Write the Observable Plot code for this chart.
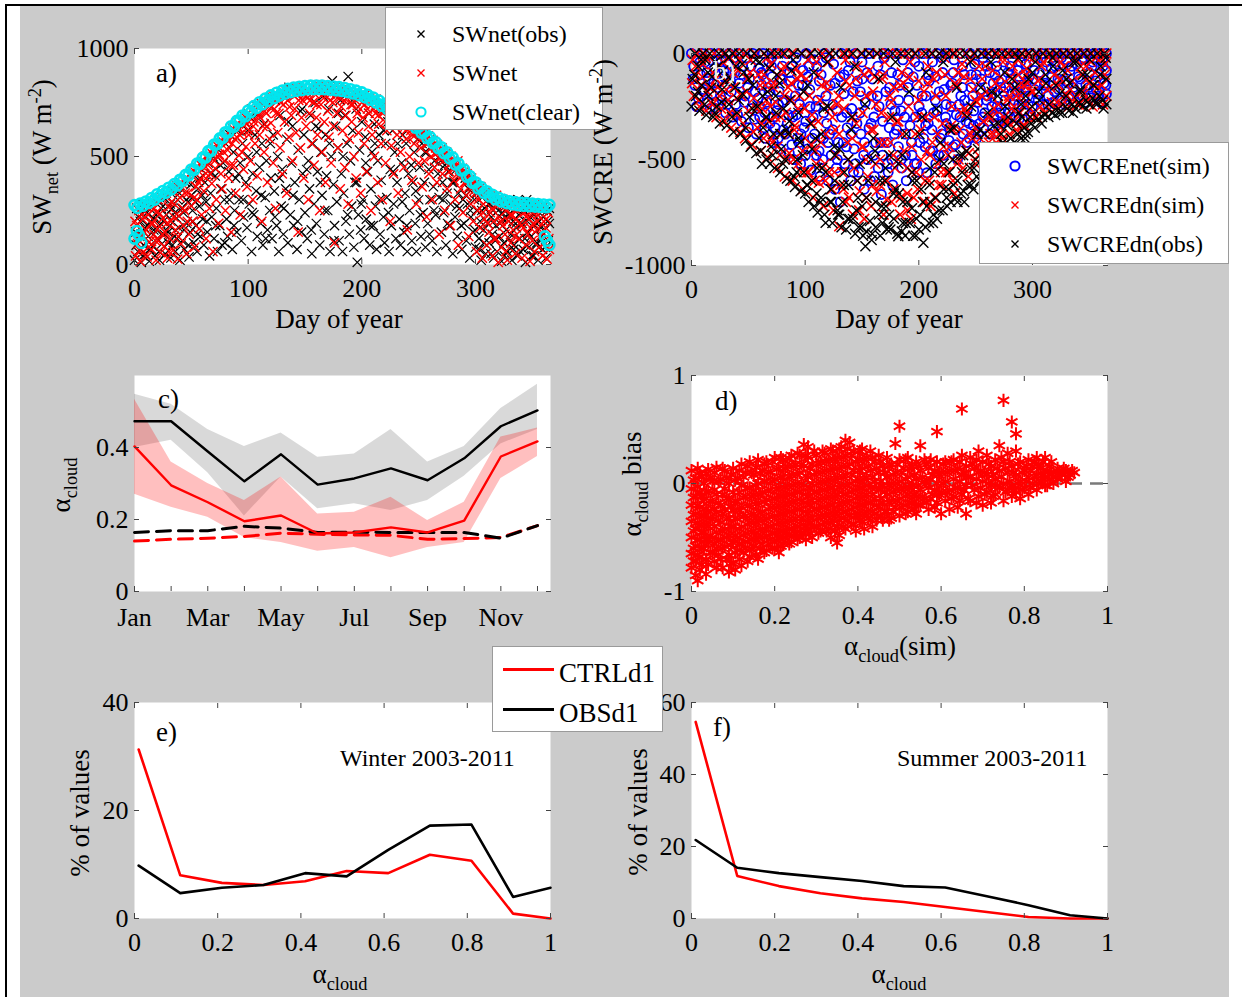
<!DOCTYPE html>
<html><head><meta charset="utf-8">
<script src="https://cdn.jsdelivr.net/npm/d3@7"></script>
<script src="https://cdn.jsdelivr.net/npm/@observablehq/plot@0.6"></script>
<style>
body{margin:0;background:#fff;}
#root{position:relative;width:1242px;height:997px;overflow:hidden;background:#fff;font-family:"Liberation Serif","Times New Roman",serif;}
.t{position:absolute;line-height:1;white-space:nowrap;font-family:"Liberation Serif","Times New Roman",serif;color:#000;}
.sb{font-size:0.68em;position:relative;top:0.38em;line-height:0;}
.sp{font-size:0.68em;position:relative;top:-0.55em;line-height:0;}
.box{position:absolute;background:#fff;border:1px solid #9a9a9a;box-sizing:border-box;}
</style></head>
<body><div id="root"></div>
<script>
// ---------- Panel a: SWnet (W m-2) vs day of year ----------
const swnetClear = [[0,275],[5,282],[10,292],[15,308],[20,325],[25,340],[30,355],[35,372],[40,392],[45,415],[50,440],[55,467],[60,495],[65,525],[70,555],[75,584],[80,612],[85,640],[90,665],[95,690],[100,713],[105,733],[110,751],[115,768],[120,783],[125,795],[130,805],[135,813],[140,819],[145,823],[150,826],[155,828],[160,829],[165,828],[170,826],[175,824],[180,821],[185,817],[190,811],[195,805],[200,797],[205,786],[210,773],[215,759],[220,744],[225,729],[230,714],[235,698],[240,681],[245,660],[250,638],[255,614],[260,590],[265,566],[270,543],[275,520],[280,496],[285,468],[290,440],[295,410],[300,381],[305,358],[310,339],[315,323],[320,310],[325,300],[330,293],[335,289],[340,286],[345,284],[350,282],[355,280],[360,278],[365,276],[0,120],[2,155],[4,135],[6,100],[363,110],[365,90],[361,130]];
const swnetClearB = [[2.5,262],[7.5,272],[12.5,285],[17.5,300],[22.5,317],[27.5,332],[32.5,348],[37.5,366],[42.5,388],[47.5,412],[52.5,438],[57.5,466],[62.5,495],[67.5,526],[72.5,556],[77.5,585],[82.5,612],[87.5,638],[92.5,663],[97.5,686],[102.5,706],[107.5,725],[112.5,742],[117.5,757],[122.5,770],[127.5,782],[132.5,791],[137.5,798],[142.5,804],[147.5,808],[152.5,811],[157.5,812],[162.5,812],[167.5,811],[172.5,809],[177.5,806],[182.5,803],[187.5,798],[192.5,792],[197.5,784],[202.5,775],[207.5,763],[212.5,750],[217.5,735],[222.5,720],[227.5,705],[232.5,690],[237.5,673],[242.5,655],[247.5,633],[252.5,610],[257.5,586],[262.5,562],[267.5,538],[272.5,515],[277.5,490],[282.5,463],[287.5,435],[292.5,406],[297.5,378],[302.5,352],[307.5,332],[312.5,315],[317.5,302],[322.5,292],[327.5,284],[332.5,278],[337.5,274],[342.5,272],[347.5,270],[352.5,268],[357.5,266],[362.5,265]];
const swnetSim = [[1,40],[2,180],[3,95],[4,250],[5,15],[6,130],[7,210],[8,60],[9,270],[10,160],[11,35],[12,230],[13,105],[14,290],[15,70],[16,190],[17,140],[18,300],[19,20],[20,245],[21,110],[22,175],[23,55],[24,310],[25,215],[26,85],[27,150],[28,330],[29,30],[30,265],[31,120],[32,200],[33,340],[34,65],[35,280],[36,160],[37,365],[38,25],[39,225],[40,310],[41,95],[42,375],[43,180],[44,250],[45,400],[46,50],[47,330],[48,140],[49,420],[50,270],[51,200],[52,435],[53,80],[54,360],[55,300],[56,450],[57,165],[58,395],[59,230],[60,480],[61,340],[62,455],[63,120],[64,500],[65,410],[66,260],[67,520],[68,375],[69,60],[70,540],[71,445],[72,300],[73,500],[74,190],[75,565],[76,420],[77,350],[78,585],[79,480],[80,250],[81,600],[82,530],[83,400],[84,620],[85,150],[86,560],[87,460],[88,640],[89,330],[90,590],[91,655],[92,505],[93,230],[94,670],[95,610],[96,440],[97,685],[98,545],[99,360],[100,700],[101,620],[102,480],[103,720],[104,300],[105,660],[106,560],[107,735],[108,410],[109,690],[110,600],[111,748],[112,200],[113,640],[114,520],[115,760],[116,700],[117,380],[118,770],[119,580],[120,655],[121,775],[122,470],[123,720],[124,260],[125,790],[126,610],[127,700],[128,540],[129,800],[130,420],[131,740],[132,660],[133,805],[134,330],[135,760],[136,590],[137,810],[138,690],[139,480],[140,815],[141,720],[142,610],[143,790],[144,150],[145,820],[146,540],[147,680],[148,760],[149,400],[150,825],[151,640],[152,770],[153,300],[154,700],[155,828],[156,560],[157,750],[158,460],[159,810],[160,680],[161,600],[162,828],[163,250],[164,740],[165,520],[166,790],[167,660],[168,380],[169,820],[170,710],[171,590],[172,760],[173,470],[174,825],[175,640],[176,100],[177,780],[178,700],[179,540],[180,815],[181,350],[182,730],[183,620],[184,800],[185,450],[186,690],[187,770],[188,280],[189,580],[190,805],[191,660],[192,740],[193,500],[194,795],[195,400],[196,700],[197,610],[198,780],[199,330],[200,750],[201,680],[202,560],[203,785],[204,430],[205,720],[206,640],[207,770],[208,250],[209,600],[210,760],[211,500],[212,700],[213,740],[214,380],[215,650],[216,730],[217,560],[218,300],[219,710],[220,740],[221,470],[222,620],[223,725],[224,680],[225,200],[226,550],[227,715],[228,420],[229,660],[230,700],[231,600],[232,330],[233,690],[234,520],[235,680],[236,640],[237,450],[238,670],[239,580],[240,160],[241,660],[242,500],[243,620],[244,390],[245,650],[246,560],[247,600],[248,280],[249,630],[250,470],[251,610],[252,540],[253,360],[254,600],[255,480],[256,590],[257,220],[258,560],[259,420],[260,580],[261,500],[262,300],[263,555],[264,450],[265,540],[266,380],[267,520],[268,140],[269,500],[270,530],[271,420],[272,480],[273,250],[274,510],[275,350],[276,490],[277,430],[278,180],[279,470],[280,480],[281,390],[282,300],[283,460],[284,420],[285,90],[286,440],[287,350],[288,410],[289,240],[290,430],[291,380],[292,320],[293,400],[294,130],[295,390],[296,280],[297,360],[298,200],[299,370],[300,330],[301,60],[302,250],[303,350],[304,170],[305,320],[306,30],[307,280],[308,210],[309,340],[310,90],[311,300],[312,150],[313,240],[314,320],[315,40],[316,200],[317,300],[318,120],[319,270],[320,10],[321,220],[322,305],[323,80],[324,180],[325,290],[326,140],[327,250],[328,20],[329,200],[330,285],[331,100],[332,230],[333,160],[334,280],[335,50],[336,210],[337,270],[338,120],[339,190],[340,260],[341,30],[342,170],[343,240],[344,90],[345,280],[346,140],[347,210],[348,15],[349,250],[350,110],[351,190],[352,60],[353,270],[354,160],[355,230],[356,80],[357,130],[358,260],[359,40],[360,200],[361,100],[362,170],[363,25],[364,240],[365,70]];
const swnetSimB = [[0.5,200],[2.5,120],[4.5,65],[6.5,230],[8.5,150],[10.5,270],[12.5,80],[14.5,190],[16.5,255],[18.5,110],[20.5,300],[22.5,235],[24.5,140],[26.5,320],[28.5,190],[30.5,60],[32.5,290],[34.5,220],[36.5,350],[38.5,130],[40.5,380],[42.5,260],[44.5,330],[46.5,200],[48.5,390],[50.5,430],[52.5,310],[54.5,450],[56.5,380],[58.5,460],[60.5,410],[62.5,500],[64.5,460],[66.5,420],[68.5,530],[70.5,480],[72.5,550],[74.5,510],[76.5,575],[78.5,520],[80.5,595],[82.5,570],[84.5,460],[86.5,630],[88.5,580],[90.5,640],[92.5,600],[94.5,520],[96.5,670],[98.5,650],[100.5,600],[102.5,690],[104.5,640],[106.5,710],[108.5,730],[110.5,680],[112.5,740],[114.5,710],[116.5,640],[118.5,760],[120.5,730],[122.5,780],[124.5,700],[126.5,770],[128.5,750],[130.5,800],[132.5,770],[134.5,795],[136.5,730],[138.5,805],[140.5,780],[142.5,815],[144.5,760],[146.5,800],[148.5,820],[150.5,780],[152.5,810],[154.5,760],[156.5,820],[158.5,790],[160.5,740],[162.5,805],[164.5,825],[166.5,770],[168.5,800],[170.5,815],[172.5,790],[174.5,750],[176.5,820],[178.5,795],[180.5,770],[182.5,810],[184.5,760],[186.5,800],[188.5,780],[190.5,740],[192.5,790],[194.5,760],[196.5,800],[198.5,720],[200.5,785],[202.5,740],[204.5,770],[206.5,700],[208.5,760],[210.5,720],[212.5,765],[214.5,690],[216.5,745],[218.5,700],[220.5,660],[222.5,735],[224.5,700],[226.5,650],[228.5,715],[230.5,680],[232.5,700],[234.5,650],[236.5,690],[238.5,620],[240.5,675],[242.5,640],[244.5,600],[246.5,650],[248.5,610],[250.5,630],[252.5,580],[254.5,615],[256.5,560],[258.5,595],[260.5,540],[262.5,575],[264.5,510],[266.5,555],[268.5,490],[270.5,540],[272.5,500],[274.5,520],[276.5,460],[278.5,500],[280.5,440],[282.5,470],[284.5,480],[286.5,400],[288.5,445],[290.5,380],[292.5,420],[294.5,360],[296.5,400],[298.5,340],[300.5,375],[302.5,300],[304.5,360],[306.5,240],[308.5,330],[310.5,190],[312.5,310],[314.5,260],[316.5,120],[318.5,320],[320.5,280],[322.5,200],[324.5,300],[326.5,60],[328.5,270],[330.5,230],[332.5,290],[334.5,130],[336.5,250],[338.5,290],[340.5,180],[342.5,270],[344.5,220],[346.5,270],[348.5,170],[350.5,240],[352.5,280],[354.5,200],[356.5,260],[358.5,150],[360.5,270],[362.5,210],[364.5,120]];
const swnetObs = [[0,20],[1,150],[2,260],[3,60],[4,110],[5,200],[6,10],[7,280],[8,90],[9,170],[10,45],[11,240],[12,130],[13,15],[14,200],[15,270],[16,85],[17,160],[18,40],[19,230],[20,120],[21,300],[22,20],[23,190],[24,95],[25,270],[26,140],[27,50],[28,230],[29,310],[30,100],[31,180],[32,30],[33,260],[34,340],[35,130],[36,60],[37,215],[38,300],[39,170],[40,20],[41,350],[42,110],[43,240],[44,70],[45,380],[46,190],[47,290],[48,35],[49,150],[50,320],[51,250],[52,100],[53,410],[54,180],[55,60],[56,350],[57,270],[58,130],[59,440],[60,210],[61,90],[62,380],[63,290],[64,150],[65,470],[66,40],[67,330],[68,220],[69,500],[70,120],[71,410],[72,260],[73,60],[74,530],[75,180],[76,350],[77,90],[78,470],[79,300],[80,560],[81,210],[82,130],[83,430],[84,600],[85,330],[86,70],[87,520],[88,250],[89,400],[90,150],[91,620],[92,300],[93,470],[94,110],[95,560],[96,220],[97,660],[98,380],[99,170],[100,500],[101,280],[102,680],[103,60],[104,420],[105,230],[106,600],[107,340],[108,130],[109,700],[110,450],[111,190],[112,560],[113,90],[114,650],[115,310],[116,480],[117,160],[118,740],[119,250],[120,400],[121,120],[122,600],[123,340],[124,760],[125,180],[126,500],[127,60],[128,690],[129,270],[130,440],[131,140],[132,780],[133,350],[134,580],[135,100],[136,820],[137,230],[138,470],[139,640],[140,180],[141,380],[142,790],[143,70],[144,530],[145,300],[146,710],[147,150],[148,420],[149,600],[150,240],[151,800],[152,120],[153,480],[154,350],[155,690],[156,50],[157,560],[158,280],[159,750],[160,190],[161,430],[162,630],[163,90],[164,520],[165,320],[166,780],[167,140],[168,600],[169,410],[170,250],[171,720],[172,60],[173,500],[174,850],[175,370],[176,180],[177,640],[178,290],[179,540],[180,110],[181,760],[182,420],[183,60],[184,330],[185,690],[186,200],[187,560],[188,870],[189,140],[190,480],[191,270],[192,620],[193,80],[194,380],[195,720],[196,10],[197,230],[198,530],[199,160],[200,660],[201,300],[202,120],[203,590],[204,210],[205,430],[206,700],[207,90],[208,350],[209,520],[210,180],[211,650],[212,270],[213,70],[214,480],[215,600],[216,140],[217,390],[218,720],[219,220],[220,100],[221,560],[222,310],[223,660],[224,60],[225,440],[226,180],[227,620],[228,280],[229,520],[230,120],[231,380],[232,680],[233,210],[234,90],[235,470],[236,600],[237,150],[238,330],[239,560],[240,60],[241,420],[242,250],[243,640],[244,110],[245,380],[246,520],[247,190],[248,60],[249,580],[250,300],[251,450],[252,130],[253,560],[254,240],[255,380],[256,80],[257,520],[258,190],[259,440],[260,300],[261,540],[262,110],[263,360],[264,480],[265,230],[266,60],[267,420],[268,310],[269,500],[270,150],[271,380],[272,240],[273,460],[274,90],[275,330],[276,430],[277,180],[278,280],[279,470],[280,50],[281,380],[282,220],[283,440],[284,130],[285,330],[286,260],[287,420],[288,70],[289,300],[290,190],[291,400],[292,110],[293,280],[294,350],[295,30],[296,220],[297,370],[298,150],[299,300],[300,80],[301,250],[302,340],[303,120],[304,200],[305,20],[306,310],[307,160],[308,260],[309,50],[310,330],[311,190],[312,100],[313,280],[314,220],[315,140],[316,30],[317,300],[318,180],[319,60],[320,250],[321,130],[322,290],[323,15],[324,210],[325,100],[326,270],[327,160],[328,60],[329,230],[330,300],[331,140],[332,20],[333,200],[334,90],[335,260],[336,170],[337,40],[338,230],[339,120],[340,290],[341,190],[342,70],[343,250],[344,10],[345,300],[346,150],[347,80],[348,220],[349,130],[350,270],[351,40],[352,180],[353,240],[354,100],[355,20],[356,200],[357,260],[358,130],[359,70],[360,220],[361,160],[362,30],[363,250],[364,110],[365,190]];
const swnetObsB = [[1.5,90],[3.5,220],[5.5,140],[7.5,40],[9.5,250],[11.5,180],[13.5,70],[15.5,290],[17.5,210],[19.5,160],[21.5,60],[23.5,260],[25.5,200],[27.5,320],[29.5,150],[31.5,280],[33.5,90],[35.5,240],[37.5,120],[39.5,330],[41.5,260],[43.5,160],[45.5,300],[47.5,90],[49.5,370],[51.5,200],[53.5,290],[55.5,140],[57.5,400],[59.5,320],[63.5,200],[67.5,420],[71.5,180],[75.5,460],[79.5,100],[83.5,300],[87.5,180],[91.5,420],[95.5,300],[99.5,620],[103.5,240],[107.5,520],[111.5,320],[115.5,120],[119.5,560],[123.5,220],[127.5,400],[131.5,260],[135.5,660],[139.5,320],[143.5,200],[147.5,720],[151.5,440],[155.5,160],[159.5,640],[163.5,380],[167.5,250],[171.5,560],[175.5,110],[179.5,700],[183.5,500],[187.5,230],[191.5,760],[195.5,380],[199.5,280],[203.5,470],[207.5,180],[211.5,560],[215.5,300],[219.5,620],[223.5,240],[227.5,430],[231.5,560],[235.5,290],[239.5,180],[243.5,460],[247.5,340],[251.5,230],[255.5,520],[259.5,140],[263.5,250],[267.5,470],[271.5,300],[275.5,190],[279.5,380],[283.5,270],[287.5,180],[291.5,320],[295.5,250],[299.5,160],[301.5,330],[303.5,70],[305.5,250],[307.5,100],[309.5,200],[311.5,280],[313.5,50],[315.5,250],[317.5,110],[319.5,300],[321.5,190],[323.5,240],[325.5,40],[327.5,210],[329.5,120],[331.5,280],[333.5,70],[335.5,190],[337.5,300],[339.5,60],[341.5,250],[343.5,120],[345.5,200],[347.5,260],[349.5,40],[351.5,230],[353.5,90],[355.5,280],[357.5,170],[359.5,250],[361.5,80],[363.5,200],[365,260]];

// ---------- Panel b: SWCRE (W m-2) vs day of year ----------
const swcreNetSim = [[0,0],[2,-60],[3,-150],[5,-20],[6,-210],[8,-100],[9,0],[11,-170],[12,-40],[14,-230],[15,-120],[17,0],[18,-190],[20,-70],[21,-260],[23,-140],[24,0],[26,-30],[27,-220],[29,-110],[30,-280],[32,-50],[33,0],[35,-180],[36,-300],[38,-90],[39,-240],[41,0],[42,-140],[44,-320],[45,-60],[47,-200],[48,-20],[50,-350],[51,-120],[53,-260],[54,0],[56,-180],[57,-380],[59,-70],[60,-300],[62,-150],[63,0],[65,-400],[66,-230],[68,-40],[69,-330],[71,-110],[72,-420],[74,0],[75,-270],[77,-180],[78,-450],[80,-60],[81,-360],[83,-220],[84,0],[86,-470],[87,-130],[89,-300],[90,-500],[92,-20],[93,-400],[95,-240],[96,-520],[98,-80],[99,-350],[101,0],[102,-450],[104,-170],[105,-550],[107,-300],[108,-30],[110,-480],[111,-220],[113,-580],[114,-100],[116,-400],[117,0],[119,-330],[120,-600],[122,-150],[123,-480],[125,-50],[126,-640],[128,-270],[129,-420],[131,-700],[132,0],[134,-190],[135,-520],[137,-350],[138,-80],[140,-600],[141,-260],[143,-450],[144,0],[146,-130],[147,-560],[149,-380],[150,-40],[152,-640],[153,-230],[155,-500],[156,0],[158,-330],[159,-120],[161,-580],[162,-420],[164,-60],[165,-250],[167,-665],[168,-480],[170,0],[171,-180],[173,-560],[174,-350],[176,-90],[177,-620],[179,-270],[180,0],[182,-440],[183,-150],[185,-540],[186,-30],[188,-380],[189,-600],[191,-220],[192,0],[194,-480],[195,-110],[197,-300],[198,-520],[200,-60],[201,-420],[203,-200],[204,0],[206,-340],[207,-563],[209,-130],[210,-460],[212,-40],[213,-280],[215,-520],[216,0],[218,-180],[219,-400],[221,-90],[222,-480],[224,-240],[225,0],[227,-350],[228,-150],[230,-440],[231,-30],[233,-290],[234,-500],[236,0],[237,-200],[239,-380],[240,-100],[242,-420],[243,-260],[245,0],[246,-160],[248,-340],[249,-50],[251,-400],[252,-230],[254,0],[255,-120],[257,-350],[258,-280],[260,-60],[261,-320],[263,0],[264,-190],[266,-300],[267,-100],[269,-250],[270,0],[272,-160],[273,-330],[275,-40],[276,-220],[278,0],[279,-280],[281,-120],[282,-190],[284,0],[285,-300],[287,-80],[288,-240],[290,-150],[291,0],[293,-270],[294,-50],[296,-200],[297,-110],[299,0],[300,-250],[302,-170],[303,-20],[305,-220],[306,-90],[308,0],[309,-240],[311,-140],[312,-40],[314,-200],[315,0],[317,-110],[318,-230],[320,-60],[321,0],[323,-170],[324,-90],[326,-220],[327,0],[329,-130],[330,-30],[332,-200],[333,-80],[335,0],[336,-160],[338,-230],[339,-50],[341,0],[342,-120],[344,-200],[345,-20],[347,-150],[348,0],[350,-90],[351,-210],[353,-40],[354,0],[356,-170],[357,-110],[359,0],[360,-230],[362,-60],[363,-140],[365,0],[365,-80],[365,-190]];
const swcreNetSimB = [[1.5,-120],[4.5,-250],[7.5,-40],[10.5,-180],[13.5,-90],[16.5,-260],[19.5,-140],[22.5,-30],[25.5,-200],[28.5,-80],[31.5,-240],[34.5,-130],[37.5,-20],[40.5,-290],[43.5,-100],[46.5,-230],[49.5,-160],[52.5,-60],[55.5,-310],[58.5,-210],[61.5,-90],[64.5,-280],[67.5,-160],[70.5,-20],[73.5,-350],[76.5,-240],[79.5,-120],[82.5,-380],[85.5,-290],[88.5,-60],[91.5,-200],[94.5,-420],[97.5,-150],[100.5,-320],[103.5,-60],[106.5,-400],[109.5,-250],[112.5,-130],[115.5,-500],[118.5,-20],[121.5,-380],[124.5,-240],[127.5,-540],[130.5,-110],[133.5,-420],[136.5,-280],[139.5,-40],[142.5,-560],[145.5,-330],[148.5,-180],[151.5,-480],[154.5,-90],[157.5,-600],[160.5,-300],[163.5,-200],[166.5,-420],[169.5,-20],[172.5,-520],[175.5,-240],[178.5,-380],[181.5,-100],[184.5,-500],[187.5,-300],[190.5,-160],[193.5,-420],[196.5,-40],[199.5,-560],[202.5,-280],[205.5,-440],[208.5,-100],[211.5,-360],[214.5,-220],[217.5,-480],[220.5,-20],[223.5,-300],[226.5,-410],[229.5,-140],[232.5,-360],[235.5,-240],[238.5,-60],[241.5,-320],[244.5,-400],[247.5,-200],[250.5,-100],[253.5,-330],[256.5,-20],[259.5,-220],[262.5,-380],[265.5,-140],[268.5,-60],[271.5,-280],[274.5,-180],[277.5,-320],[280.5,-60],[283.5,-240],[286.5,-150],[289.5,-40],[292.5,-210],[295.5,-130],[298.5,-290],[301.5,-80],[304.5,-190],[307.5,-20],[310.5,-150],[313.5,-240],[316.5,-70],[319.5,-180],[322.5,-120],[325.5,-20],[328.5,-240],[331.5,-140],[334.5,-60],[337.5,-180],[340.5,-110],[343.5,-30],[346.5,-230],[349.5,-160],[352.5,-60],[355.5,-130],[358.5,-200],[361.5,-30],[364.5,-150]];
const swcreNetSimC = [[60.25,-250],[64.25,-350],[68.25,-180],[72.25,-300],[76.25,-400],[80.25,-230],[84.25,-330],[88.25,-430],[92.25,-290],[96.25,-380],[100.25,-480],[104.25,-250],[108.25,-380],[112.25,-460],[116.25,-280],[120.25,-420],[124.25,-360],[128.25,-500],[132.25,-300],[136.25,-440],[140.25,-380],[144.25,-520],[148.25,-280],[152.25,-420],[156.25,-350],[160.25,-480],[164.25,-540],[168.25,-320],[172.25,-420],[176.25,-500],[180.25,-360],[184.25,-270],[188.25,-480],[192.25,-340],[196.25,-520],[200.25,-250],[204.25,-400],[208.25,-330],[212.25,-460],[216.25,-270],[220.25,-380],[224.25,-330],[228.25,-250],[232.25,-430],[236.25,-300],[240.25,-220],[244.25,-330],[248.25,-270],[252.25,-380],[256.25,-300],[260.25,-200],[264.25,-250],[268.25,-330],[272.25,-260],[276.25,-160],[280.25,-300],[284.25,-220],[288.25,-310],[292.25,-100],[296.25,-240],[300.25,-120],[62.25,-100],[70.25,-60],[78.25,-120],[86.25,-90],[94.25,-150],[102.25,-110],[110.25,-60],[118.25,-200],[126.25,-140],[134.25,-100],[142.25,-180],[150.25,-120],[158.25,-200],[166.25,-100],[174.25,-160],[182.25,-220],[190.25,-90],[198.25,-150],[206.25,-200],[214.25,-110],[222.25,-170],[230.25,-90],[238.25,-160],[246.25,-100],[254.25,-170],[262.25,-90],[270.25,-130],[278.25,-90],[286.25,-180],[294.25,-160]];
const swcreDnSim = [[1,-30],[2,-200],[4,-100],[5,0],[7,-250],[8,-150],[10,-50],[11,0],[13,-270],[14,-180],[16,-20],[17,-230],[19,-90],[20,0],[22,-300],[23,-160],[25,-60],[26,-260],[28,0],[29,-320],[31,-130],[32,-220],[34,-20],[35,-350],[37,-160],[38,0],[40,-290],[41,-80],[43,-370],[44,-200],[46,0],[47,-400],[49,-120],[50,-270],[52,-30],[53,-430],[55,-210],[56,0],[58,-350],[59,-100],[61,-460],[62,-260],[64,0],[65,-150],[67,-490],[68,-320],[70,-50],[71,-420],[73,0],[74,-230],[76,-540],[77,-110],[79,-380],[80,0],[82,-580],[83,-280],[85,-160],[86,-470],[88,0],[89,-600],[91,-340],[92,-70],[94,-520],[95,-200],[97,0],[98,-640],[100,-400],[101,-120],[103,-560],[104,0],[106,-290],[107,-680],[109,-460],[110,-40],[112,-610],[113,-220],[115,0],[116,-720],[118,-380],[119,-140],[121,-560],[122,0],[124,-300],[125,-740],[127,-480],[128,-90],[130,-815],[131,-620],[133,0],[134,-260],[136,-700],[137,-420],[139,-150],[140,0],[142,-760],[143,-540],[145,-330],[146,-60],[148,-650],[149,0],[151,-440],[152,-780],[154,-200],[155,-580],[157,0],[158,-720],[160,-360],[161,-110],[163,-650],[164,0],[166,-500],[167,-280],[169,-760],[170,-40],[172,-600],[173,0],[175,-420],[176,-700],[178,-160],[179,-540],[181,0],[182,-320],[184,-680],[185,-90],[187,-460],[188,0],[190,-740],[191,-250],[193,-780],[194,-560],[196,0],[197,-380],[199,-640],[200,-130],[202,-500],[203,0],[205,-700],[206,-300],[208,-60],[209,-600],[211,0],[212,-420],[214,-680],[215,-200],[217,-520],[218,0],[220,-620],[221,-330],[223,-100],[224,-560],[226,0],[227,-440],[229,-250],[230,-600],[232,0],[233,-150],[235,-500],[236,-360],[238,-50],[239,-540],[241,0],[242,-280],[244,-470],[245,-120],[247,-400],[248,0],[250,-520],[251,-230],[253,-60],[254,-440],[256,0],[257,-320],[259,-180],[260,-480],[262,0],[263,-380],[265,-80],[266,-260],[268,-420],[269,0],[271,-160],[272,-350],[274,-40],[275,-300],[277,0],[278,-220],[280,-380],[281,-110],[283,0],[284,-320],[286,-200],[287,-30],[289,-280],[290,0],[292,-150],[293,-340],[295,-70],[296,0],[298,-260],[299,-180],[301,-20],[302,-300],[304,0],[305,-130],[307,-250],[308,-60],[310,0],[311,-280],[313,-170],[314,-20],[316,0],[317,-230],[319,-100],[320,-260],[322,0],[323,-150],[325,-40],[326,-240],[328,0],[329,-190],[331,-80],[332,-250],[334,0],[335,-130],[337,-210],[338,-30],[340,0],[341,-240],[343,-100],[344,-180],[346,0],[347,-60],[349,-220],[350,-140],[352,0],[353,-250],[355,-90],[356,-20],[358,-200],[359,0],[361,-150],[362,-240],[364,-50],[365,0],[365,-200]];
const swcreDnSimB = [[0.5,-140],[3.5,-60],[6.5,-220],[9.5,-110],[12.5,-20],[15.5,-160],[18.5,-240],[21.5,-120],[24.5,-200],[27.5,-40],[30.5,-170],[33.5,-280],[36.5,-90],[39.5,-210],[42.5,-30],[45.5,-330],[48.5,-180],[51.5,-90],[54.5,-370],[57.5,-260],[60.5,-150],[63.5,-400],[66.5,-20],[69.5,-250],[72.5,-140],[75.5,-440],[78.5,-300],[81.5,-60],[84.5,-500],[87.5,-220],[90.5,-360],[93.5,-120],[96.5,-560],[99.5,-260],[102.5,-30],[105.5,-430],[108.5,-600],[111.5,-320],[114.5,-150],[117.5,-520],[120.5,-40],[123.5,-640],[126.5,-360],[129.5,-200],[132.5,-560],[135.5,-30],[138.5,-680],[141.5,-400],[144.5,-120],[147.5,-740],[150.5,-280],[153.5,-500],[156.5,-80],[159.5,-620],[162.5,-240],[165.5,-420],[168.5,-100],[171.5,-690],[174.5,-200],[177.5,-480],[180.5,-320],[183.5,-760],[186.5,-140],[189.5,-540],[192.5,-40],[195.5,-680],[198.5,-300],[201.5,-580],[204.5,-180],[207.5,-460],[210.5,-720],[213.5,-120],[216.5,-380],[219.5,-560],[222.5,-20],[225.5,-480],[228.5,-340],[231.5,-660],[234.5,-90],[237.5,-420],[240.5,-260],[243.5,-580],[246.5,-30],[249.5,-350],[252.5,-480],[255.5,-200],[258.5,-60],[261.5,-420],[264.5,-300],[267.5,-140],[270.5,-380],[273.5,-20],[276.5,-320],[279.5,-200],[282.5,-60],[285.5,-260],[288.5,-150],[291.5,-340],[294.5,-100],[297.5,-20],[300.5,-180],[303.5,-300],[306.5,-120],[309.5,-40],[312.5,-250],[315.5,-160],[318.5,-20],[321.5,-230],[324.5,-120],[327.5,-60],[330.5,-200],[333.5,-170],[336.5,-20],[339.5,-240],[342.5,-60],[345.5,-190],[348.5,-120],[351.5,-40],[354.5,-220],[357.5,-160],[360.5,-20],[363.5,-100]];
const swcreDnSimC = [[61.75,-330],[65.75,-220],[69.75,-400],[73.75,-300],[77.75,-480],[81.75,-200],[85.75,-380],[89.75,-500],[93.75,-260],[97.75,-460],[101.75,-560],[105.75,-330],[109.75,-520],[113.75,-420],[117.75,-600],[121.75,-260],[125.75,-560],[129.75,-380],[133.75,-640],[137.75,-500],[141.75,-300],[145.75,-600],[149.75,-440],[153.75,-680],[157.75,-360],[161.75,-520],[165.75,-620],[169.75,-420],[173.75,-300],[177.75,-640],[181.75,-500],[185.75,-380],[189.75,-660],[193.75,-440],[197.75,-560],[201.75,-360],[205.75,-600],[209.75,-480],[213.75,-300],[217.75,-620],[221.75,-440],[225.75,-560],[229.75,-360],[233.75,-520],[237.75,-280],[241.75,-460],[245.75,-380],[249.75,-220],[253.75,-400],[257.75,-480],[261.75,-300],[265.75,-380],[269.75,-240],[273.75,-400],[277.75,-320],[281.75,-260],[285.75,-360],[289.75,-200],[293.75,-240],[297.75,-300],[63.75,-100],[71.75,-160],[79.75,-80],[87.75,-140],[95.75,-100],[103.75,-200],[111.75,-100],[119.75,-170],[127.75,-240],[135.75,-130],[143.75,-200],[151.75,-100],[159.75,-180],[167.75,-120],[175.75,-230],[183.75,-150],[191.75,-110],[199.75,-220],[207.75,-140],[215.75,-90],[223.75,-200],[231.75,-140],[239.75,-110],[247.75,-170],[255.75,-120],[263.75,-200],[271.75,-110],[279.75,-150],[287.75,-100],[295.75,-140]];
const swcreDnObs = [[0,-250],[1,-120],[3,0],[4,-200],[6,-60],[7,-270],[9,-150],[10,0],[12,-30],[13,-290],[15,-200],[16,0],[18,-110],[19,-300],[21,-40],[22,-250],[24,0],[25,-330],[27,-170],[28,-80],[30,0],[31,-340],[33,-240],[34,-120],[36,0],[37,-370],[39,-60],[40,-280],[42,0],[43,-380],[45,-190],[46,-90],[48,-410],[49,0],[51,-300],[52,-440],[54,-150],[55,0],[57,-470],[58,-250],[60,-40],[61,-460],[63,-350],[64,0],[66,-500],[67,-180],[69,-520],[70,0],[72,-380],[73,-540],[75,-100],[76,0],[78,-560],[79,-450],[81,-260],[82,0],[84,-590],[85,-380],[87,-600],[88,-80],[90,0],[91,-630],[93,-500],[94,-280],[96,-650],[97,0],[99,-560],[100,-660],[102,-150],[103,-700],[105,0],[106,-600],[108,-720],[109,-400],[111,-750],[112,0],[114,-680],[115,-540],[117,-760],[118,-799],[120,-250],[121,0],[123,-700],[124,-800],[126,-600],[127,0],[129,-760],[130,-450],[132,-820],[133,-700],[135,0],[136,-830],[138,-620],[139,-780],[141,-300],[142,0],[144,-850],[145,-740],[147,-820],[148,-520],[150,0],[151,-860],[153,-909],[154,-680],[156,0],[157,-790],[159,-850],[160,-400],[162,-820],[163,0],[165,-760],[166,-600],[168,-800],[169,0],[171,-720],[172,-830],[174,-480],[175,-830],[177,0],[178,-780],[180,-640],[181,-850],[182,-862],[184,0],[185,-840],[186,-700],[188,-860],[189,-380],[191,0],[192,-800],[194,-730],[195,-860],[197,0],[198,-600],[200,-830],[201,-760],[203,-300],[204,-893],[206,0],[207,-720],[209,-800],[210,-540],[212,0],[213,-760],[215,-680],[216,-780],[218,0],[219,-420],[221,-740],[222,-640],[224,0],[225,-720],[227,-560],[228,-700],[230,0],[231,-350],[233,-680],[234,-600],[236,0],[237,-660],[239,-480],[240,-700],[242,0],[243,-620],[245,-540],[246,-250],[248,-640],[249,0],[251,-580],[252,-450],[254,-600],[255,0],[257,-540],[258,-380],[260,-560],[261,0],[263,-500],[264,-180],[266,-520],[267,0],[269,-460],[270,-330],[272,-480],[273,0],[275,-430],[276,-250],[278,-450],[279,0],[281,-400],[282,-120],[284,-420],[285,0],[287,-380],[288,-280],[290,-400],[291,0],[293,-350],[294,-200],[296,-370],[297,0],[299,-330],[300,-90],[302,-350],[303,0],[305,-310],[306,-220],[308,-330],[309,0],[311,-290],[312,-140],[314,-300],[315,0],[317,-280],[318,-60],[320,-290],[321,0],[323,-260],[324,-190],[326,-280],[327,0],[329,-250],[330,-120],[332,-270],[333,0],[335,-240],[336,-40],[338,-260],[339,0],[341,-230],[342,-170],[344,-250],[345,0],[347,-220],[348,-100],[350,-240],[351,0],[353,-210],[354,-150],[356,-230],[357,0],[359,-200],[360,-60],[362,-220],[363,0],[365,-240],[365,-120]];
const swcreDnObsB = [[2.5,-100],[5.5,-180],[8.5,-30],[11.5,-240],[14.5,-90],[17.5,-160],[20.5,-280],[23.5,-60],[26.5,-230],[29.5,-130],[32.5,-20],[35.5,-300],[38.5,-160],[41.5,-220],[44.5,-50],[47.5,-350],[50.5,-120],[53.5,-260],[56.5,-30],[59.5,-400],[62.5,-200],[65.5,-300],[68.5,-70],[71.5,-480],[74.5,-280],[77.5,-140],[80.5,-520],[83.5,-360],[86.5,-220],[89.5,-30],[92.5,-560],[95.5,-420],[98.5,-180],[101.5,-620],[104.5,-330],[107.5,-90],[110.5,-540],[113.5,-700],[116.5,-260],[119.5,-40],[122.5,-640],[125.5,-440],[128.5,-740],[131.5,-160],[134.5,-560],[137.5,-780],[140.5,-360],[143.5,-60],[146.5,-680],[149.5,-820],[152.5,-240],[155.5,-600],[158.5,-880],[161.5,-460],[164.5,-120],[167.5,-720],[170.5,-540],[173.5,-820],[176.5,-300],[179.5,-40],[182.5,-660],[185.5,-480],[188.5,-800],[191.5,-180],[194.5,-600],[197.5,-860],[200.5,-380],[203.5,-700],[206.5,-90],[209.5,-620],[212.5,-800],[215.5,-260],[218.5,-500],[221.5,-40],[224.5,-680],[227.5,-360],[230.5,-620],[233.5,-160],[236.5,-480],[239.5,-650],[242.5,-300],[245.5,-40],[248.5,-540],[251.5,-380],[254.5,-160],[257.5,-600],[260.5,-280],[263.5,-40],[266.5,-450],[269.5,-200],[272.5,-380],[275.5,-90],[278.5,-300],[281.5,-440],[284.5,-160],[287.5,-20],[290.5,-300],[293.5,-400],[296.5,-120],[299.5,-250],[302.5,-40],[305.5,-180],[308.5,-300],[311.5,-100],[314.5,-240],[317.5,-20],[320.5,-150],[323.5,-280],[326.5,-80],[329.5,-200],[332.5,-140],[335.5,-280],[338.5,-40],[341.5,-180],[344.5,-100],[347.5,-260],[350.5,-30],[353.5,-150],[356.5,-240],[359.5,-100],[362.5,-260],[364.5,-20]];
const swcreDnObsC = [[62,-520],[66,-300],[70,-440],[74,-200],[78,-380],[82,-500],[86,-320],[90,-580],[94,-400],[98,-480],[102,-620],[106,-450],[110,-660],[114,-380],[118,-560],[122,-700],[126,-480],[130,-760],[134,-620],[138,-500],[142,-780],[146,-600],[150,-720],[154,-840],[158,-500],[162,-700],[166,-860],[170,-600],[174,-760],[178,-660],[182,-520],[186,-800],[190,-700],[194,-560],[198,-780],[202,-640],[206,-820],[210,-700],[214,-560],[218,-740],[222,-520],[226,-640],[230,-500],[234,-700],[238,-560],[242,-460],[246,-620],[250,-500],[254,-360],[258,-560],[262,-440],[266,-340],[270,-500],[274,-420],[278,-340],[282,-460],[286,-330],[290,-240],[294,-380],[298,-300]];

// ---------- Panel c: monthly alpha_cloud ----------
const months = [1,2,3,4,5,6,7,8,9,10,11,12];
const monthLabels = ["Jan","Mar","May","Jul","Sep","Nov"];
const obsMean = [0.473,0.473,0.389,0.306,0.381,0.297,0.314,0.342,0.309,0.370,0.459,0.503];
const obsHi   = [0.548,0.520,0.450,0.403,0.440,0.373,0.382,0.450,0.360,0.403,0.508,0.576];
const obsLo   = [0.400,0.420,0.330,0.210,0.318,0.230,0.244,0.225,0.253,0.320,0.410,0.450];
const ctrlMean = [0.403,0.295,0.248,0.195,0.211,0.161,0.164,0.178,0.164,0.197,0.375,0.417];
const ctrlHi   = [0.534,0.360,0.300,0.253,0.318,0.215,0.220,0.262,0.197,0.248,0.429,0.454];
const ctrlLo   = [0.270,0.234,0.206,0.150,0.136,0.112,0.122,0.094,0.122,0.136,0.314,0.375];
const obsDash  = [0.164,0.169,0.169,0.181,0.176,0.164,0.165,0.164,0.164,0.164,0.148,0.183];
const ctrlDash = [0.140,0.145,0.148,0.153,0.162,0.159,0.157,0.156,0.145,0.147,0.150,0.183];

// ---------- Panel d: alpha_cloud bias vs alpha_cloud(sim) ----------
const biasPts = [[0,0.12],[0,-0.05],[0,-0.2],[0,-0.35],[0,-0.5],[0,-0.65],[0,-0.78],[0.01,0.05],[0.01,-0.12],[0.01,-0.28],[0.01,-0.42],[0.01,-0.58],[0.01,-0.72],[0.01,-0.85],[0.02,0.1],[0.02,-0.08],[0.02,-0.22],[0.02,-0.38],[0.02,-0.52],[0.02,-0.68],[0.02,-0.8],[0.03,0.0],[0.03,-0.15],[0.03,-0.3],[0.03,-0.45],[0.03,-0.6],[0.04,0.13],[0.04,-0.07],[0.04,-0.25],[0.04,-0.4],[0.04,-0.55],[0.04,-0.75],[0.05,0.02],[0.05,-0.17],[0.05,-0.33],[0.05,-0.5],[0.05,-0.64],[0.06,0.15],[0.06,-0.1],[0.06,-0.27],[0.06,-0.45],[0.06,-0.6],[0.06,-0.78],[0.07,0.04],[0.07,-0.2],[0.07,-0.36],[0.07,-0.52],[0.07,-0.7],[0.08,0.12],[0.08,-0.05],[0.08,-0.24],[0.08,-0.42],[0.08,-0.58],[0.09,0.0],[0.09,-0.15],[0.09,-0.32],[0.09,-0.48],[0.09,-0.66],[0.09,-0.82],[0.1,0.14],[0.1,-0.08],[0.1,-0.25],[0.1,-0.4],[0.1,-0.55],[0.1,-0.74],[0.11,0.05],[0.11,-0.17],[0.11,-0.33],[0.11,-0.5],[0.11,-0.62],[0.12,0.18],[0.12,-0.02],[0.12,-0.22],[0.12,-0.4],[0.12,-0.56],[0.12,-0.76],[0.13,0.1],[0.13,-0.12],[0.13,-0.3],[0.13,-0.46],[0.13,-0.6],[0.14,0.2],[0.14,-0.04],[0.14,-0.2],[0.14,-0.36],[0.14,-0.52],[0.14,-0.68],[0.15,0.08],[0.15,-0.1],[0.15,-0.28],[0.15,-0.44],[0.15,-0.58],[0.16,0.22],[0.16,0.0],[0.16,-0.18],[0.16,-0.34],[0.16,-0.5],[0.16,-0.7],[0.17,0.12],[0.17,-0.08],[0.17,-0.26],[0.17,-0.42],[0.17,-0.56],[0.18,0.2],[0.18,0.02],[0.18,-0.15],[0.18,-0.32],[0.18,-0.48],[0.18,-0.62],[0.19,0.1],[0.19,-0.06],[0.19,-0.22],[0.19,-0.4],[0.19,-0.52],[0.2,0.24],[0.2,0.04],[0.2,-0.14],[0.2,-0.3],[0.2,-0.46],[0.2,-0.6],[0.21,0.14],[0.21,-0.04],[0.21,-0.2],[0.21,-0.36],[0.21,-0.5],[0.21,-0.64],[0.22,0.22],[0.22,0.06],[0.22,-0.12],[0.22,-0.28],[0.22,-0.44],[0.22,-0.56],[0.23,0.16],[0.23,-0.02],[0.23,-0.18],[0.23,-0.34],[0.23,-0.48],[0.24,0.26],[0.24,0.08],[0.24,-0.1],[0.24,-0.26],[0.24,-0.42],[0.24,-0.54],[0.25,0.18],[0.25,0.0],[0.25,-0.16],[0.25,-0.32],[0.25,-0.46],[0.26,0.26],[0.26,0.1],[0.26,-0.08],[0.26,-0.24],[0.26,-0.4],[0.26,-0.5],[0.27,0.36],[0.27,0.16],[0.27,-0.02],[0.27,-0.18],[0.27,-0.34],[0.27,-0.46],[0.28,0.34],[0.28,0.24],[0.28,0.06],[0.28,-0.12],[0.28,-0.28],[0.28,-0.42],[0.29,0.18],[0.29,0.0],[0.29,-0.16],[0.29,-0.32],[0.29,-0.5],[0.3,0.26],[0.3,0.1],[0.3,-0.08],[0.3,-0.24],[0.3,-0.4],[0.31,0.2],[0.31,0.02],[0.31,-0.14],[0.31,-0.3],[0.31,-0.44],[0.32,0.28],[0.32,0.12],[0.32,-0.06],[0.32,-0.22],[0.32,-0.36],[0.33,0.22],[0.33,0.04],[0.33,-0.12],[0.33,-0.28],[0.33,-0.42],[0.34,0.3],[0.34,0.14],[0.34,-0.04],[0.34,-0.2],[0.34,-0.34],[0.35,0.24],[0.35,0.06],[0.35,-0.1],[0.35,-0.26],[0.35,-0.4],[0.35,-0.55],[0.36,0.34],[0.36,0.16],[0.36,-0.02],[0.36,-0.18],[0.36,-0.32],[0.37,0.4],[0.37,0.26],[0.37,0.08],[0.37,-0.1],[0.37,-0.26],[0.37,-0.42],[0.38,0.38],[0.38,0.18],[0.38,0.0],[0.38,-0.16],[0.38,-0.3],[0.39,0.3],[0.39,0.12],[0.39,-0.06],[0.39,-0.22],[0.39,-0.38],[0.4,0.22],[0.4,0.04],[0.4,-0.12],[0.4,-0.28],[0.41,0.32],[0.41,0.14],[0.41,-0.04],[0.41,-0.2],[0.41,-0.36],[0.42,0.24],[0.42,0.06],[0.42,-0.1],[0.42,-0.26],[0.43,0.3],[0.43,0.12],[0.43,-0.04],[0.43,-0.18],[0.43,-0.34],[0.44,0.2],[0.44,0.02],[0.44,-0.14],[0.44,-0.28],[0.45,0.26],[0.45,0.1],[0.45,-0.06],[0.45,-0.22],[0.46,0.16],[0.46,-0.02],[0.46,-0.18],[0.46,-0.34],[0.47,0.24],[0.47,0.06],[0.47,-0.1],[0.47,-0.26],[0.48,0.18],[0.48,0.0],[0.48,-0.16],[0.48,-0.32],[0.49,0.37],[0.49,0.1],[0.49,-0.06],[0.49,-0.22],[0.5,0.53],[0.5,0.22],[0.5,0.02],[0.5,-0.14],[0.5,-0.3],[0.51,0.14],[0.51,-0.04],[0.51,-0.2],[0.52,0.24],[0.52,0.06],[0.52,-0.1],[0.52,-0.26],[0.53,0.16],[0.53,-0.02],[0.53,-0.18],[0.54,0.2],[0.54,0.04],[0.54,-0.12],[0.54,-0.28],[0.55,0.35],[0.55,0.12],[0.55,-0.06],[0.55,-0.2],[0.56,0.22],[0.56,0.02],[0.56,-0.14],[0.57,0.14],[0.57,-0.04],[0.57,-0.24],[0.58,0.08],[0.58,-0.1],[0.59,0.48],[0.59,0.2],[0.59,0.0],[0.59,-0.18],[0.6,0.1],[0.6,-0.08],[0.6,-0.28],[0.61,0.2],[0.61,0.02],[0.61,-0.16],[0.62,0.12],[0.62,-0.06],[0.62,-0.24],[0.63,0.22],[0.63,0.04],[0.63,-0.12],[0.64,0.14],[0.64,-0.04],[0.64,-0.22],[0.65,0.69],[0.65,0.26],[0.65,0.08],[0.65,-0.1],[0.66,0.16],[0.66,-0.02],[0.66,-0.28],[0.67,0.24],[0.67,0.06],[0.67,-0.16],[0.68,0.14],[0.68,-0.06],[0.69,0.3],[0.69,0.1],[0.69,-0.12],[0.7,0.2],[0.7,0.02],[0.7,-0.2],[0.71,0.26],[0.71,0.08],[0.71,-0.08],[0.72,0.16],[0.72,-0.02],[0.72,-0.18],[0.73,0.22],[0.73,0.04],[0.73,-0.1],[0.74,0.35],[0.74,0.12],[0.74,-0.04],[0.75,0.77],[0.75,0.2],[0.75,0.0],[0.75,-0.16],[0.76,0.28],[0.76,0.1],[0.76,-0.06],[0.77,0.57],[0.77,0.16],[0.77,-0.02],[0.77,-0.12],[0.78,0.46],[0.78,0.3],[0.78,0.08],[0.78,-0.08],[0.79,0.2],[0.79,0.02],[0.79,-0.14],[0.8,0.12],[0.8,-0.04],[0.81,0.22],[0.81,0.06],[0.81,-0.1],[0.82,0.16],[0.82,0.0],[0.83,0.24],[0.83,0.08],[0.83,-0.06],[0.84,0.14],[0.84,0.02],[0.85,0.24],[0.85,0.06],[0.85,-0.02],[0.86,0.16],[0.86,0.04],[0.87,0.1],[0.87,0.0],[0.88,0.14],[0.88,0.04],[0.89,0.08],[0.9,0.12],[0.9,0.02],[0.91,0.08],[0.92,0.1]];
const biasPtsB = [[0.005,0.03],[0.005,-0.13],[0.005,-0.29],[0.005,-0.44],[0.005,-0.6],[0.005,-0.72],[0.015,0.14],[0.015,-0.03],[0.015,-0.2],[0.015,-0.36],[0.015,-0.52],[0.015,-0.66],[0.015,-0.9],[0.025,0.06],[0.025,-0.12],[0.025,-0.3],[0.025,-0.46],[0.025,-0.6],[0.025,-0.75],[0.035,0.09],[0.035,-0.08],[0.035,-0.23],[0.035,-0.38],[0.035,-0.52],[0.035,-0.7],[0.035,-0.84],[0.045,0.05],[0.045,-0.16],[0.045,-0.32],[0.045,-0.48],[0.045,-0.64],[0.055,0.1],[0.055,-0.06],[0.055,-0.24],[0.055,-0.4],[0.055,-0.56],[0.055,-0.72],[0.065,0.02],[0.065,-0.18],[0.065,-0.34],[0.065,-0.52],[0.065,-0.66],[0.075,0.14],[0.075,-0.1],[0.075,-0.28],[0.075,-0.44],[0.075,-0.6],[0.075,-0.78],[0.085,0.05],[0.085,-0.14],[0.085,-0.33],[0.085,-0.5],[0.085,-0.7],[0.095,0.08],[0.095,-0.22],[0.095,-0.4],[0.095,-0.57],[0.095,-0.74],[0.105,0.03],[0.105,-0.16],[0.105,-0.32],[0.105,-0.48],[0.105,-0.64],[0.105,-0.8],[0.115,0.12],[0.115,-0.08],[0.115,-0.25],[0.115,-0.42],[0.115,-0.56],[0.115,-0.7],[0.125,0.06],[0.125,-0.13],[0.125,-0.31],[0.125,-0.48],[0.125,-0.64],[0.135,0.16],[0.135,-0.04],[0.135,-0.21],[0.135,-0.38],[0.135,-0.54],[0.135,-0.72],[0.145,0.1],[0.145,-0.12],[0.145,-0.29],[0.145,-0.45],[0.145,-0.61],[0.155,0.15],[0.155,-0.02],[0.155,-0.19],[0.155,-0.36],[0.155,-0.52],[0.155,-0.66],[0.165,0.09],[0.165,-0.1],[0.165,-0.27],[0.165,-0.43],[0.165,-0.6],[0.175,0.18],[0.175,0.02],[0.175,-0.17],[0.175,-0.34],[0.175,-0.5],[0.175,-0.64],[0.185,0.11],[0.185,-0.07],[0.185,-0.24],[0.185,-0.4],[0.185,-0.56],[0.195,0.2],[0.195,0.02],[0.195,-0.14],[0.195,-0.31],[0.195,-0.46],[0.195,-0.6],[0.205,0.13],[0.205,-0.06],[0.205,-0.22],[0.205,-0.38],[0.205,-0.53],[0.215,0.24],[0.215,0.05],[0.215,-0.12],[0.215,-0.28],[0.215,-0.44],[0.215,-0.58],[0.225,0.14],[0.225,-0.04],[0.225,-0.2],[0.225,-0.36],[0.225,-0.5],[0.235,0.23],[0.235,0.06],[0.235,-0.1],[0.235,-0.26],[0.235,-0.42],[0.235,-0.56],[0.245,0.16],[0.245,-0.02],[0.245,-0.18],[0.245,-0.34],[0.245,-0.48],[0.255,0.28],[0.255,0.08],[0.255,-0.08],[0.255,-0.24],[0.255,-0.4],[0.255,-0.52],[0.265,0.18],[0.265,0.0],[0.265,-0.16],[0.265,-0.32],[0.265,-0.46],[0.275,0.26],[0.275,0.07],[0.275,-0.1],[0.275,-0.26],[0.275,-0.4],[0.275,-0.52],[0.285,0.14],[0.285,-0.04],[0.285,-0.2],[0.285,-0.36],[0.285,-0.46],[0.295,0.3],[0.295,0.08],[0.295,-0.08],[0.295,-0.24],[0.295,-0.4],[0.305,0.18],[0.305,0.0],[0.305,-0.16],[0.305,-0.32],[0.305,-0.46],[0.315,0.3],[0.315,0.1],[0.315,-0.06],[0.315,-0.22],[0.315,-0.38],[0.325,0.2],[0.325,0.02],[0.325,-0.14],[0.325,-0.3],[0.325,-0.44],[0.335,0.32],[0.335,0.12],[0.335,-0.04],[0.335,-0.2],[0.335,-0.36],[0.335,-0.5],[0.345,0.22],[0.345,0.04],[0.345,-0.12],[0.345,-0.28],[0.345,-0.44],[0.355,0.32],[0.355,0.14],[0.355,-0.04],[0.355,-0.2],[0.355,-0.34],[0.355,-0.48],[0.365,0.24],[0.365,0.06],[0.365,-0.1],[0.365,-0.26],[0.365,-0.4],[0.375,0.32],[0.375,0.16],[0.375,-0.02],[0.375,-0.18],[0.375,-0.34],[0.385,0.26],[0.385,0.08],[0.385,-0.08],[0.385,-0.24],[0.385,-0.38],[0.395,0.2],[0.395,0.02],[0.395,-0.14],[0.395,-0.3],[0.395,-0.44],[0.405,0.3],[0.405,0.12],[0.405,-0.04],[0.405,-0.2],[0.405,-0.34],[0.415,0.22],[0.415,0.04],[0.415,-0.12],[0.415,-0.28],[0.415,-0.42],[0.425,0.16],[0.425,-0.02],[0.425,-0.18],[0.425,-0.32],[0.435,0.24],[0.435,0.06],[0.435,-0.1],[0.435,-0.26],[0.435,-0.4],[0.445,0.14],[0.445,-0.04],[0.445,-0.2],[0.445,-0.34],[0.455,0.2],[0.455,0.02],[0.455,-0.14],[0.455,-0.3],[0.465,0.1],[0.465,-0.08],[0.465,-0.26],[0.475,0.16],[0.475,-0.02],[0.475,-0.18],[0.475,-0.34],[0.485,0.08],[0.485,-0.08],[0.485,-0.26],[0.495,0.18],[0.495,0.0],[0.495,-0.16],[0.505,0.1],[0.505,-0.06],[0.505,-0.22],[0.515,0.22],[0.515,0.04],[0.515,-0.12],[0.515,-0.28],[0.525,0.14],[0.525,-0.04],[0.525,-0.18],[0.535,0.08],[0.535,-0.1],[0.535,-0.24],[0.545,0.16],[0.545,-0.02],[0.545,-0.2],[0.555,0.06],[0.555,-0.12],[0.565,0.18],[0.565,0.0],[0.565,-0.18],[0.575,0.22],[0.575,0.04],[0.575,-0.14],[0.585,0.12],[0.585,-0.06],[0.585,-0.22],[0.595,0.08],[0.595,-0.1],[0.605,0.18],[0.605,0.0],[0.615,0.1],[0.615,-0.08],[0.625,0.2],[0.625,-0.14],[0.635,0.12],[0.635,-0.04],[0.645,0.2],[0.645,0.02],[0.645,-0.16],[0.655,0.1],[0.655,-0.06],[0.665,0.06],[0.665,-0.14],[0.675,0.18],[0.675,-0.02],[0.685,0.22],[0.685,0.04],[0.685,-0.18],[0.695,0.12],[0.695,-0.04],[0.705,0.1],[0.705,-0.1],[0.715,0.18],[0.715,0.0],[0.725,0.08],[0.725,-0.12],[0.735,0.14],[0.735,-0.02],[0.745,0.24],[0.745,0.06],[0.755,0.14],[0.755,-0.08],[0.765,0.2],[0.765,0.02],[0.775,0.1],[0.775,-0.06],[0.785,0.18],[0.785,0.0],[0.795,0.1],[0.795,-0.06],[0.805,0.16],[0.805,0.02],[0.815,0.12],[0.815,-0.04],[0.825,0.2],[0.825,0.06],[0.835,0.16],[0.835,0.0],[0.845,0.2],[0.845,0.08],[0.855,0.12],[0.855,-0.02],[0.865,0.2],[0.865,0.08],[0.875,0.06],[0.885,0.1],[0.895,0.14],[0.905,0.06],[0.915,0.12]];

// ---------- Panels e, f: distributions (% of values) ----------
const binCenters = [0.01,0.11,0.21,0.31,0.41,0.51,0.61,0.71,0.81,0.91,1.0];
const winterCtrl = [31.3,8.0,6.6,6.2,6.9,8.8,8.4,11.8,10.7,0.9,0.0];
const winterObs  = [9.8,4.7,5.7,6.2,8.4,7.8,12.7,17.2,17.4,4.0,5.7];
const summerCtrl = [54.6,11.8,9.0,7.0,5.6,4.6,3.2,1.8,0.4,0.0,0.0];
const summerObs  = [21.8,14.1,12.6,11.5,10.4,9.0,8.6,6.2,3.7,0.9,0.0];

// ---------- Layout ----------
const root = document.getElementById("root");
const FONT = '"Liberation Serif","Times New Roman",serif';
const RED = "#ff0000", BLUE = "#0000ff", CYAN = "#00e5ee";

function div(cls, css, html) {
  const d = document.createElement("div");
  if (cls) d.className = cls;
  d.style.cssText = css;
  if (html != null) d.innerHTML = html;
  root.appendChild(d);
  return d;
}
div("", "position:absolute;left:20px;top:6px;width:1209px;height:991px;background:#cbcbcb;");
div("", "position:absolute;left:5px;top:4px;width:1237px;height:2px;background:#000;");
div("", "position:absolute;left:5px;top:4px;width:2px;height:993px;background:#000;");

const noText = () => "";
function panel(o) {
  const mL = 90, mR = 30, mT = 30, mB = 60;
  const w = o.right - o.left, h = o.bottom - o.top;
  const tk = {stroke: "#444", strokeWidth: 1};
  const marks = [
    Plot.frame({fill: "white", stroke: "none"}),
    ...o.marks,
    Plot.axisX({anchor: "bottom", ticks: o.xLabels, tickFormat: o.xFormat, tickSize: 0, tickPadding: o.xPad ?? 14, label: null, fontSize: 26}),
    Plot.axisX({anchor: "bottom", ticks: o.xTicks, tickFormat: noText, tickSize: -5, label: null, ...tk}),
    Plot.axisY({anchor: "left", ticks: o.yLabels, tickFormat: o.yFormat, tickSize: 0, tickPadding: 6, label: null, fontSize: 26}),
    Plot.axisY({anchor: "left", ticks: o.yTicks, tickFormat: noText, tickSize: -5, label: null, ...tk}),
    Plot.axisY({anchor: "right", ticks: o.yTicks, tickFormat: noText, tickSize: -5, label: null, ...tk})
  ];
  if (o.topTicks !== false) marks.push(Plot.axisX({anchor: "top", ticks: o.xTicks, tickFormat: noText, tickSize: -5, label: null, ...tk}));
  const svg = Plot.plot({
    width: w + mL + mR, height: h + mT + mB,
    marginLeft: mL, marginRight: mR, marginTop: mT, marginBottom: mB,
    x: {domain: o.xDomain}, y: {domain: o.yDomain},
    style: {fontFamily: FONT, fontSize: "26px", background: "transparent", overflow: "visible", color: "#000"},
    marks
  });
  svg.style.position = "absolute";
  svg.style.left = (o.left - mL) + "px";
  svg.style.top = (o.top - mT) + "px";
  svg.style.maxWidth = "none";
  root.appendChild(svg);
}
const S = d => String(d);
const px = d => d[0], py = d => d[1];

// a
panel({
  left: 134, right: 550, top: 48, bottom: 264,
  xDomain: [0, 366], yDomain: [0, 1000],
  xLabels: [0, 100, 200, 300], xTicks: [0, 100, 200, 300], xFormat: S,
  yLabels: [0, 500, 1000], yTicks: [0, 500, 1000], yFormat: S,
  marks: [
    Plot.dot(swnetObs.concat(swnetObsB), {x: px, y: py, symbol: "times", r: 4.3, stroke: "#000", strokeWidth: 1.2}),
    Plot.dot(swnetSim.concat(swnetSimB), {x: px, y: py, symbol: "times", r: 4.3, stroke: RED, strokeWidth: 1.4}),
    Plot.dot(swnetClear.concat(swnetClearB), {x: px, y: py, symbol: "circle", r: 5, stroke: CYAN, strokeWidth: 2.6, fill: "none"})
  ]
});
// b
panel({
  left: 691, right: 1107, top: 53, bottom: 265,
  xDomain: [0, 366], yDomain: [-1000, 0],
  xLabels: [0, 100, 200, 300], xTicks: [0, 100, 200, 300], xFormat: S,
  yLabels: [-1000, -500, 0], yTicks: [-1000, -500, 0], yFormat: S,
  marks: [
    Plot.dot(swcreNetSim.concat(swcreNetSimB, swcreNetSimC), {x: px, y: py, symbol: "circle", r: 4.6, stroke: BLUE, strokeWidth: 1.8, fill: "none"}),
    Plot.dot(swcreDnSim.concat(swcreDnSimB, swcreDnSimC), {x: px, y: py, symbol: "times", r: 4.6, stroke: RED, strokeWidth: 1.6}),
    Plot.dot(swcreDnObs.concat(swcreDnObsB, swcreDnObsC), {x: px, y: py, symbol: "times", r: 4.6, stroke: "#000", strokeWidth: 1.4})
  ]
});
// c
const cRows = months.map((m, i) => ({m, obsMean: obsMean[i], obsHi: obsHi[i], obsLo: obsLo[i], ctrlMean: ctrlMean[i], ctrlHi: ctrlHi[i], ctrlLo: ctrlLo[i], obsDash: obsDash[i], ctrlDash: ctrlDash[i]}));
const monthTickVals = [1, 3, 5, 7, 9, 11];
panel({
  left: 134, right: 550, top: 375, bottom: 591,
  xDomain: [1, 12.355], yDomain: [0, 0.6],
  xLabels: monthTickVals, xTicks: months, xFormat: d => monthLabels[monthTickVals.indexOf(d)], xPad: 16,
  yLabels: [0, 0.2, 0.4], yTicks: [0, 0.2, 0.4], yFormat: S, topTicks: false,
  marks: [
    Plot.areaY(cRows, {x: "m", y1: "obsLo", y2: "obsHi", fill: "#000", fillOpacity: 0.15}),
    Plot.areaY(cRows, {x: "m", y1: "ctrlLo", y2: "ctrlHi", fill: RED, fillOpacity: 0.25}),
    Plot.line(cRows, {x: "m", y: "ctrlDash", stroke: RED, strokeWidth: 3, strokeDasharray: "14,8"}),
    Plot.line(cRows, {x: "m", y: "obsDash", stroke: "#000", strokeWidth: 3, strokeDasharray: "14,8"}),
    Plot.line(cRows, {x: "m", y: "obsMean", stroke: "#000", strokeWidth: 2.4}),
    Plot.line(cRows, {x: "m", y: "ctrlMean", stroke: RED, strokeWidth: 2.4})
  ]
});
// d
panel({
  left: 691, right: 1107, top: 375, bottom: 591,
  xDomain: [0, 1], yDomain: [-1, 1],
  xLabels: [0, 0.2, 0.4, 0.6, 0.8, 1], xTicks: [0, 0.2, 0.4, 0.6, 0.8, 1], xFormat: S, xPad: 14,
  yLabels: [-1, 0, 1], yTicks: [-1, 0, 1], yFormat: S,
  marks: [
    Plot.ruleY([0], {stroke: "#7a7a7a", strokeWidth: 2.5, strokeDasharray: "13,8"}),
    Plot.dot(biasPts.concat(biasPtsB), {x: px, y: py, symbol: "asterisk", r: 6.2, stroke: RED, strokeWidth: 2})
  ]
});
// e, f
const eRows = binCenters.map((x, i) => ({x, ctrl: winterCtrl[i], obs: winterObs[i]}));
const fRows = binCenters.map((x, i) => ({x, ctrl: summerCtrl[i], obs: summerObs[i]}));
panel({
  left: 134, right: 550, top: 702, bottom: 918,
  xDomain: [0, 1], yDomain: [0, 40],
  xLabels: [0, 0.2, 0.4, 0.6, 0.8, 1], xTicks: [0, 0.2, 0.4, 0.6, 0.8, 1], xFormat: S,
  yLabels: [0, 20, 40], yTicks: [0, 20, 40], yFormat: S,
  marks: [
    Plot.line(eRows, {x: "x", y: "ctrl", stroke: RED, strokeWidth: 2.6}),
    Plot.line(eRows, {x: "x", y: "obs", stroke: "#000", strokeWidth: 2.6})
  ]
});
panel({
  left: 691, right: 1107, top: 702, bottom: 918,
  xDomain: [0, 1], yDomain: [0, 60],
  xLabels: [0, 0.2, 0.4, 0.6, 0.8, 1], xTicks: [0, 0.2, 0.4, 0.6, 0.8, 1], xFormat: S,
  yLabels: [0, 20, 40, 60], yTicks: [0, 20, 40, 60], yFormat: S,
  marks: [
    Plot.line(fRows, {x: "x", y: "ctrl", stroke: RED, strokeWidth: 2.6}),
    Plot.line(fRows, {x: "x", y: "obs", stroke: "#000", strokeWidth: 2.6})
  ]
});

// ---------- Texts ----------
function text(html, left, baseline, size, extra = "") {
  return div("t", `left:${left}px;top:${baseline - 0.838 * size}px;font-size:${size}px;${extra}`, html);
}
function ylab(html, cx, cy, size = 27) {
  return div("t", `left:${cx}px;top:${cy}px;font-size:${size}px;transform:translate(-50%,-50%) rotate(-90deg);`, html);
}
function xlab(html, cx, baseline, size = 27) {
  return div("t", `left:${cx}px;top:${baseline - 0.838 * size}px;font-size:${size}px;transform:translateX(-50%);`, html);
}
text("a)", 156, 83, 27);
text("b)", 713, 81, 27, "color:#eeeeee;");
text("c)", 158, 409, 27);
text("d)", 715, 411, 27);
text("e)", 156, 742, 27);
text("f)", 713, 737, 27);
text("Winter 2003-2011", 340, 766, 24);
text("Summer 2003-2011", 897, 766, 24);

xlab("Day of year", 339, 329);
xlab("Day of year", 899, 329);
xlab('&alpha;<span class="sb">cloud</span>(sim)', 900, 656);
xlab('&alpha;<span class="sb">cloud</span>', 340, 984);
xlab('&alpha;<span class="sb">cloud</span>', 899, 984);

// legend a
div("box", "left:385px;top:7px;width:218px;height:123px;");
function glyph(kind, color, cx, cy) {
  const s = kind === "x"
    ? `<svg width="12" height="12" style="position:absolute;left:${cx - 6}px;top:${cy - 6}px"><path d="M2.5,2.5L9.5,9.5M2.5,9.5L9.5,2.5" stroke="${color}" stroke-width="1.4"/></svg>`
    : `<svg width="14" height="14" style="position:absolute;left:${cx - 7}px;top:${cy - 7}px"><circle cx="7" cy="7" r="4.6" fill="none" stroke="${color}" stroke-width="2"/></svg>`;
  div("", "position:absolute;left:0;top:0;", s);
}
[["SWnet(obs)", 34, "x", "#000"], ["SWnet", 73, "x", RED], ["SWnet(clear)", 112, "o", CYAN]]
  .forEach(([t, y, k, c]) => { glyph(k, c, 421, y); text(t, 452, y + 8, 24); });

// legend b
div("box", "left:979px;top:142px;width:250px;height:122px;");
[["SWCREnet(sim)", 166, "o", BLUE], ["SWCREdn(sim)", 205, "x", RED], ["SWCREdn(obs)", 244, "x", "#000"]]
  .forEach(([t, y, k, c]) => { glyph(k, c, 1015, y); text(t, 1047, y + 8, 24); });

// legend CTRL/OBS
div("box", "left:492px;top:646px;width:171px;height:86px;");
div("", `position:absolute;left:503px;top:668px;width:51px;height:3px;background:${RED};`);
div("", "position:absolute;left:503px;top:708px;width:51px;height:3px;background:#000;");
text("CTRLd1", 559, 683, 27);
text("OBSd1", 559, 723, 27);

// y labels (on top)
ylab('SW<span class="sb">net</span> (W m<span class="sp">-2</span>)', 42, 157);
ylab('SWCRE (W m<span class="sp">-2</span>)', 603, 152);
ylab('&alpha;<span class="sb">cloud</span>', 61, 485);
ylab('&alpha;<span class="sb">cloud</span> bias', 632, 484);
ylab('% of values', 80, 813);
ylab('% of values', 638, 812);
</script>
</body></html>
